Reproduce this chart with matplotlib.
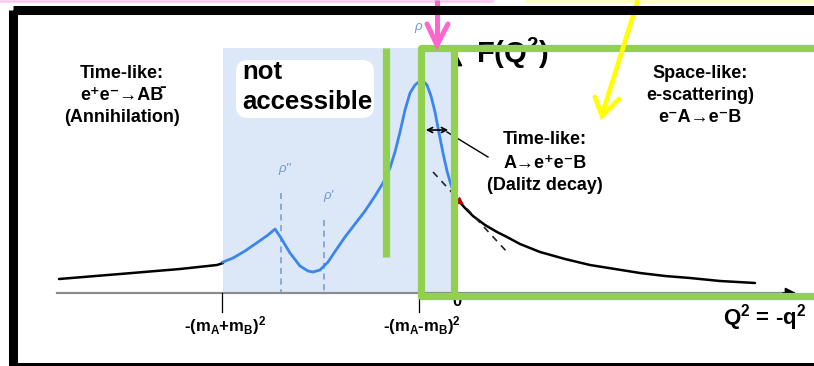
"""
Schematic of the form factor F(Q^2) across the time-like and space-like regions.
Drawn on a pixel-sized canvas (814 x 366) with the annotation overlay.
"""

import matplotlib.pyplot as plt
import matplotlib as mpl
from matplotlib.patches import Rectangle, FancyBboxPatch

mpl.rcParams.update(
    {
        "font.family": ["Liberation Sans", "DejaVu Sans"],
        "font.weight": "bold",
        "mathtext.default": "regular",
    }
)

# ---------------------------------------------------------------------------
# Curve points (canvas pixels, y grows downward)
# ---------------------------------------------------------------------------
tail_x = [59, 120, 180, 217, 223]
tail_y = [279, 274, 269, 265, 263]

vmd_x = [223, 233, 245, 258, 268, 275, 281, 290, 300, 308, 313, 320, 328, 336,
         345, 355, 365, 375, 383, 390, 395, 400, 405, 410, 415, 420, 423, 427,
         431, 435, 439, 443, 447, 451, 454]
vmd_y = [262, 258, 251, 242, 235, 229, 238, 253, 266, 271, 272, 270, 262, 250,
         237, 224, 211, 196, 183, 168, 152, 132, 110, 93, 85, 81, 81, 85,
         96, 112, 133, 153, 171, 185, 192]

space_x = [458, 465, 473, 485, 497, 507, 520, 540, 565, 590, 615, 640, 665,
           690, 720, 755]
space_y = [200, 208, 216, 225, 232, 237, 244, 252, 259, 265, 269, 273, 276,
           278, 281, 283]

tangent_x = [433, 508]
tangent_y = [172, 253]

# resonance markers: x position, top of dashed line, label
res_x = [281, 324]
res_top = [193, 220]
res_labels = ["ρ''", "ρ'"]

# tick positions and labels on the Q^2 axis
tick_x = [222, 419]
tick_labels = [r"-(m$_A$+m$_B$)$^2$", r"-(m$_A$-m$_B$)$^2$"]

left_lines = ["Time-like:", "e⁺e⁻→AB\u0304", "(Annihilation)"]
right_lines = ["Space-like:", "e-scattering)", "e⁻A→e⁻B"]
mid_lines = ["Time-like:", "A→e⁺e⁻B", "(Dalitz decay)"]

GREEN = "#92d050"
BLUE = "#3a86ee"
LIGHT = "#dce8f8"
RHO = "#7098d0"

# ---------------------------------------------------------------------------
# Plot
# ---------------------------------------------------------------------------
fig = plt.figure(figsize=(8.14, 3.66), dpi=100)
ax = fig.add_axes([0, 0, 1, 1])
ax.set_xlim(0, 814)
ax.set_ylim(366, 0)
ax.axis("off")

# not-accessible band
ax.add_patch(Rectangle((223, 48), 229, 245, fc=LIGHT, ec="none", zorder=1))
ax.add_patch(FancyBboxPatch((240, 64), 130, 50, boxstyle="round,pad=4,rounding_size=12",
                            fc="white", ec="none", zorder=2))
ax.text(242, 72, "not", fontsize=18.5, va="center", ha="left", zorder=3)
ax.text(242, 102, "accessible", fontsize=18.5, va="center", ha="left", zorder=3)

# axes
ax.plot([57, 785], [293, 293], color="#8c8c8c", lw=1.6, zorder=3)
ax.annotate("", xy=(799, 293), xytext=(780, 293),
            arrowprops=dict(arrowstyle="-|>", color="black", lw=1.2,
                            mutation_scale=16), zorder=4)
ax.plot([456, 456], [293, 65], color="#8c8c8c", lw=1.6, zorder=3)
ax.annotate("", xy=(457, 52), xytext=(457, 70),
            arrowprops=dict(arrowstyle="-|>", color="black", lw=1.2,
                            mutation_scale=16), zorder=4)
ax.text(476, 53, r"F(Q$^2$)", fontsize=21, va="center", ha="left", zorder=3)
ax.text(806, 318, r"Q$^2$ = -q$^2$", fontsize=16, va="center", ha="right", zorder=3)

for x, lab in zip(tick_x, tick_labels):
    ax.plot([x, x], [293, 312], color="black", lw=0.9, zorder=3)
    ax.text(x + 3, 326, lab, fontsize=12, va="center", ha="center", zorder=3)
ax.text(457, 301, "0", fontsize=12, va="center", ha="center", zorder=3)

# curves
ax.plot(tail_x, tail_y, color="black", lw=1.8, zorder=4, solid_capstyle="round")
ax.plot(vmd_x, vmd_y, color=BLUE, lw=2.0, zorder=4, solid_joinstyle="round")
ax.plot(space_x, space_y, color="black", lw=1.8, zorder=4, solid_capstyle="round")
ax.plot(tangent_x, tangent_y, color="#222222", lw=1.2, ls=(0, (4, 3.5)), zorder=4)
ax.plot([459], [200], marker="^", ms=5, color="#c00000", zorder=5)

for x, top, lab in zip(res_x, res_top, res_labels):
    ax.plot([x, x], [top, 293], color=RHO, lw=1.1, ls=(0, (4, 3)), zorder=3)
    ax.text(x + 4, top - 24, lab, fontsize=9.5, style="italic", weight="normal",
            color=RHO, ha="center", va="center", zorder=3)
ax.text(418, 27, "ρ", fontsize=9.5, style="italic", weight="normal",
        color=RHO, ha="center", va="center", zorder=3)

# region labels
for y, s in zip([73, 95, 117], left_lines):
    ax.text(122, y, s, fontsize=13, ha="center", va="center", zorder=3)
for y, s in zip([73, 95, 117], right_lines):
    ax.text(700, y, s, fontsize=13, ha="center", va="center", zorder=3)
for y, s in zip([140, 163, 185], mid_lines):
    ax.text(545, y, s, fontsize=13, ha="center", va="center", zorder=3)

ax.annotate("", xy=(423, 130), xytext=(451, 130),
            arrowprops=dict(arrowstyle="<->", color="black", lw=1.2,
                            mutation_scale=9), zorder=5)
ax.plot([447, 488], [132, 157], color="black", lw=1.0, zorder=5)

# green overlay
gk = dict(color=GREEN, lw=5.2, zorder=8, solid_joinstyle="round")
ax.plot([386, 386], [48, 257], solid_capstyle="butt", **gk)
ax.plot([840, 421, 421, 840], [48, 48, 296, 296], **gk)
ax.plot([454, 454], [48, 296], solid_capstyle="butt", **gk)

# pink and yellow arrows
ax.plot([0, 492], [1, 1], color="#ffc4ea", lw=1.8, zorder=9)
ax.plot([526, 814], [1, 1], color="#ffffb4", lw=1.8, zorder=9)
ax.plot([437, 437], [0, 44], color="#ff66cc", lw=3.6, zorder=10, solid_capstyle="butt")
ax.plot([427, 437, 448], [24, 45, 24], color="#ff66cc", lw=3.6, zorder=10,
        solid_capstyle="round", solid_joinstyle="miter")
ax.plot([638, 602], [0, 115], color="#ffff00", lw=3.4, zorder=10, solid_capstyle="butt")
ax.plot([595, 602, 619], [97, 116, 99], color="#ffff00", lw=3.4, zorder=10,
        solid_capstyle="round", solid_joinstyle="miter")

# black frame
ax.add_patch(Rectangle((12.5, 9.5), 900, 357, fc="none", ec="black", lw=6.5,
                       zorder=11, clip_on=True))

fig.savefig("out.png", dpi=100)
plt.close(fig)
